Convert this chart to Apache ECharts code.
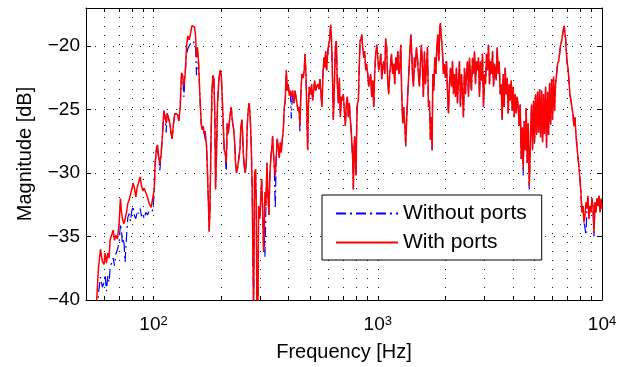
<!DOCTYPE html>
<html>
<head>
<meta charset="utf-8">
<script src="https://cdn.jsdelivr.net/npm/echarts@6/dist/echarts.min.js"></script>
<style>
  html, body { margin: 0; padding: 0; background: #fff; }
  #chart { width: 629px; height: 367px; }
</style>
</head>
<body>
<div id="chart"></div>
<script>
// frequency bins (Hz), shared by both measurements
const freqHz = [
  55.0, 55.8, 56.8, 58.0, 59.2, 60.2, 60.8, 61.7, 62.5, 63.4,
  64.0, 65.2, 66.1, 67.0, 67.9, 69.1, 70.3, 71.2, 72.0, 72.7,
  73.7, 74.7, 75.8, 76.8, 77.9, 78.9, 80.0, 81.1, 82.3, 83.4,
  84.6, 85.7, 87.2, 88.4, 89.6, 90.8, 92.4, 94.0, 95.6, 97.6,
  99.3, 100.7, 101.7, 103.1, 104.2, 105.6, 106.7, 108.2, 109.7, 111.2,
  112.7, 113.9, 115.1, 116.7, 118.3, 119.9, 121.1, 122.8, 124.5, 126.2,
  128.0, 129.7, 131.5, 133.4, 134.8, 136.6, 138.4, 140.4, 142.3, 144.3,
  146.3, 148.3, 150.3, 152.4, 153.9, 155.5, 157.1, 158.7, 160.9, 163.2,
  164.9, 166.6, 168.3, 170.0, 172.4, 174.1, 175.9, 177.1, 178.4, 180.3,
  182.1, 184.0, 185.9, 187.8, 189.1, 191.0, 193.0, 195.7, 198.4, 200.4,
  202.5, 204.6, 206.7, 208.8, 211.0, 213.2, 215.4, 217.6, 219.9, 222.2,
  224.4, 227.5, 229.8, 232.2, 234.6, 237.1, 239.5, 242.8, 245.3, 247.9,
  249.6, 251.3, 253.9, 256.5, 259.2, 261.8, 264.5, 267.3, 270.0, 272.9,
  275.6, 277.5, 279.5, 282.3, 285.2, 287.2, 289.2, 292.2, 294.2, 297.2,
  299.2, 301.3, 303.4, 306.5, 309.7, 311.8, 314.0, 317.2, 320.5, 323.8,
  327.1, 330.5, 333.9, 337.4, 339.7, 342.1, 345.6, 349.1, 352.7, 356.4,
  360.1, 363.8, 367.6, 371.4, 375.2, 379.1, 383.0, 386.9, 390.9, 395.0,
  399.0, 403.2, 407.4, 411.6, 417.3, 423.0, 427.4, 431.8, 436.2, 440.7,
  445.3, 449.8, 454.5, 459.2, 465.6, 470.4, 473.6, 478.5, 483.4, 486.8,
  490.1, 495.2, 502.0, 507.2, 512.5, 517.7, 523.1, 528.5, 534.0, 541.3,
  546.9, 552.5, 558.2, 564.0, 569.8, 575.7, 581.6, 585.6, 591.7, 597.7,
  603.9, 610.2, 616.6, 620.9, 625.2, 629.5, 633.8, 640.4, 647.0, 653.6,
  660.4, 667.3, 674.1, 681.1, 688.2, 695.2, 702.5, 709.6, 717.0, 724.4,
  731.8, 739.4, 747.1, 754.7, 762.6, 767.9, 773.1, 778.4, 783.8, 789.2,
  794.6, 800.0, 805.5, 811.1, 819.4, 827.9, 833.7, 842.2, 848.0, 856.8,
  865.6, 874.6, 883.6, 892.7, 902.0, 911.3, 920.6, 930.2, 939.9, 949.5,
  959.4, 969.4, 979.3, 989.4, 1000, 1010, 1020, 1031, 1042, 1052,
  1063, 1074, 1085, 1096, 1108, 1119, 1131, 1151, 1166, 1178,
  1190, 1203, 1215, 1228, 1241, 1254, 1266, 1279, 1293, 1306,
  1320, 1333, 1347, 1361, 1375, 1389, 1404, 1413, 1428, 1443,
  1457, 1472, 1488, 1503, 1518, 1534, 1550, 1566, 1582, 1598,
  1615, 1632, 1649, 1666, 1683, 1700, 1718, 1736, 1748, 1760,
  1778, 1796, 1815, 1834, 1852, 1872, 1891, 1904, 1923, 1943,
  1963, 1984, 2004, 2025, 2046, 2067, 2088, 2110, 2132, 2154,
  2176, 2199, 2222, 2244, 2267, 2291, 2314, 2338, 2362, 2387,
  2411, 2436, 2461, 2487, 2513, 2539, 2565, 2592, 2618, 2645,
  2673, 2700, 2729, 2756, 2785, 2813, 2842, 2872, 2901, 2931,
  2962, 2992, 3023, 3055, 3086, 3118, 3150, 3183, 3216, 3250,
  3283, 3317, 3374, 3409, 3444, 3479, 3516, 3551, 3588, 3626,
  3663, 3701, 3739, 3777, 3817, 3856, 3896, 3936, 3977, 4018,
  4059, 4102, 4143, 4186, 4229, 4273, 4318, 4362, 4407, 4453,
  4498, 4545, 4592, 4639, 4688, 4736, 4769, 4801, 4851, 4901,
  4952, 5004, 5054, 5107, 5160, 5213, 5267, 5321, 5376, 5433,
  5488, 5545, 5603, 5660, 5719, 5778, 5837, 5898, 5959, 6020,
  6082, 6145, 6209, 6273, 6339, 6404, 6470, 6538, 6604, 6673,
  6741, 6788, 6835, 6882, 6929, 6977, 7049, 7121, 7194, 7269,
  7343, 7419, 7496, 7572, 7651, 7731, 7809, 7891, 7973, 8055,
  8139, 8224, 8308, 8395, 8482, 8568, 8658, 8746, 8836, 8929,
  9020, 9113, 9209, 9302, 9399, 9497, 9594, 9694, 9795, 9895,
  10000
];

// magnitude with ports (dB)
const withPortsDb = [
  -41.5, -40.0, -37.5, -36.0, -37.0, -37.2, -36.3, -37.1, -36.3, -36.7,
  -35.3, -35.2, -34.5, -35.3, -34.9, -35.2, -33.9, -32.0, -33.1, -33.6,
  -34.0, -33.6, -33.1, -32.4, -32.1, -32.0, -31.3, -30.8, -31.2, -31.9,
  -31.1, -30.8, -30.3, -31.0, -31.4, -31.2, -31.2, -31.9, -32.4, -32.7,
  -32.6, -31.3, -29.3, -28.0, -27.8, -28.8, -29.3, -28.5, -26.9, -25.1,
  -25.6, -26.1, -25.3, -25.7, -26.1, -26.9, -27.3, -26.1, -25.3, -25.2,
  -25.4, -25.9, -24.8, -22.1, -22.3, -23.2, -22.2, -20.0, -19.2, -19.5,
  -19.0, -18.4, -18.3, -18.5, -19.1, -20.9, -20.1, -21.2, -23.8, -26.1,
  -26.6, -26.3, -26.9, -26.7, -27.9, -30.0, -32.6, -34.6, -33.1, -27.9,
  -23.8, -22.3, -22.6, -25.6, -31.3, -28.4, -24.5, -22.6, -21.9, -22.2,
  -24.0, -26.1, -28.2, -28.4, -29.2, -26.1, -26.9, -26.9, -25.3, -24.8,
  -25.8, -26.5, -27.4, -29.2, -30.0, -29.6, -29.7, -28.2, -26.3, -25.8,
  -26.9, -28.4, -29.5, -30.0, -29.2, -26.3, -25.0, -24.5, -25.6, -27.9,
  -31.5, -36.5, -41.0, -30.0, -29.7, -32.6, -41.0, -40.8, -32.6, -33.6,
  -33.1, -31.8, -30.5, -32.6, -36.2, -34.6, -31.5, -32.6, -29.2, -31.8,
  -33.3, -30.0, -28.7, -27.9, -27.1, -28.2, -29.5, -30.2, -28.7, -27.3,
  -27.9, -28.8, -27.6, -28.4, -27.4, -26.6, -24.8, -24.3, -21.9, -23.5,
  -23.0, -23.9, -23.5, -24.0, -23.5, -24.5, -23.5, -23.4, -24.5, -25.1,
  -24.8, -26.3, -23.5, -22.2, -22.5, -21.8, -20.6, -22.2, -25.6, -28.2,
  -24.8, -23.2, -23.8, -23.0, -24.3, -23.5, -22.7, -23.5, -23.2, -23.0,
  -23.4, -22.6, -23.8, -24.8, -22.2, -20.9, -21.7, -20.4, -21.9, -20.6,
  -19.9, -19.5, -18.3, -19.1, -20.9, -23.0, -25.8, -23.2, -20.1, -19.6,
  -23.0, -24.5, -22.5, -25.6, -24.0, -24.3, -23.8, -25.1, -26.3, -24.5,
  -24.0, -25.6, -24.5, -25.8, -26.9, -27.9, -28.9, -31.3, -27.9, -27.1,
  -29.2, -30.2, -26.3, -24.5, -24.3, -21.4, -19.6, -19.4, -19.1, -20.1,
  -20.9, -20.4, -21.9, -21.4, -22.2, -23.2, -22.7, -22.2, -24.0, -22.7,
  -24.8, -22.1, -20.6, -19.9, -20.9, -21.9, -21.4, -20.6, -22.6, -21.7,
  -21.2, -22.2, -19.4, -20.1, -22.7, -23.8, -22.2, -20.6, -22.2, -21.4,
  -23.0, -20.9, -21.9, -20.4, -22.2, -21.7, -19.9, -23.8, -26.1, -24.8,
  -26.3, -27.8, -25.6, -23.8, -22.2, -20.6, -19.1, -19.9, -22.2, -23.2,
  -20.9, -21.7, -20.1, -20.9, -22.2, -23.2, -21.2, -19.9, -21.7, -24.0,
  -20.4, -23.0, -21.7, -20.1, -24.8, -24.3, -27.4, -25.6, -28.2, -22.2,
  -23.5, -20.9, -22.2, -20.1, -19.1, -21.2, -18.6, -18.2, -19.4, -20.4,
  -22.2, -21.4, -22.5, -21.2, -23.5, -25.3, -23.0, -21.7, -23.2, -21.2,
  -23.8, -22.2, -24.0, -21.7, -24.5, -22.7, -21.2, -24.8, -22.2, -23.5,
  -25.6, -21.7, -23.8, -22.2, -21.2, -24.0, -20.9, -22.7, -23.5, -20.9,
  -22.2, -20.4, -23.0, -21.2, -21.9, -20.9, -24.0, -21.2, -22.7, -20.6,
  -24.8, -22.2, -23.0, -20.6, -21.9, -19.9, -23.0, -21.2, -22.2, -20.4,
  -23.2, -21.4, -22.7, -20.1, -22.2, -21.2, -23.8, -23.0, -25.8, -22.2,
  -24.8, -21.7, -23.8, -22.5, -25.3, -23.0, -24.3, -22.7, -25.1, -23.2,
  -25.6, -23.8, -25.3, -24.0, -24.8, -26.3, -24.6, -28.9, -26.4, -29.7,
  -25.9, -28.2, -24.9, -29.2, -26.1, -31.0, -29.5, -26.9, -24.6, -28.2,
  -24.3, -27.6, -23.8, -27.0, -23.6, -26.8, -23.4, -27.2, -23.5, -27.6,
  -23.8, -26.9, -23.2, -28.0, -23.6, -27.0, -22.9, -26.2, -22.6, -25.8,
  -22.4, -25.1, -23.0, -22.2, -21.4, -21.2, -20.6, -19.9, -19.6, -19.1,
  -18.6, -18.4, -19.0, -19.4, -20.4, -21.2, -21.7, -22.7, -23.8, -24.3,
  -24.8, -25.3, -26.3, -25.6, -26.9, -27.9, -28.7, -29.5, -30.5, -31.5,
  -33.1, -32.6, -33.9, -33.3, -32.3, -32.8, -31.8, -33.6, -32.6, -33.1,
  -32.0, -32.6, -34.7, -32.3, -33.1, -32.0, -32.6, -31.8, -33.1, -32.0,
  -32.8
];

// magnitude without ports (dB)
const withoutPortsDb = [
  -42.5, -41.0, -39.5, -38.2, -39.0, -38.6, -38.0, -39.3, -38.1, -38.6,
  -37.6, -37.0, -36.7, -37.3, -36.4, -36.0, -35.5, -34.0, -34.6, -35.6,
  -35.2, -37.0, -35.0, -33.5, -33.2, -33.8, -33.0, -32.6, -33.4, -33.6,
  -33.0, -33.2, -32.8, -33.4, -33.2, -33.6, -33.1, -33.3, -33.0, -33.1,
  -32.9, -31.6, -29.3, -28.0, -28.3, -28.8, -29.8, -28.5, -26.9, -25.1,
  -25.6, -26.8, -25.3, -25.7, -26.1, -26.9, -27.3, -26.1, -25.3, -25.2,
  -25.4, -25.9, -24.8, -22.1, -22.3, -24.0, -22.2, -20.6, -20.2, -20.0,
  -19.8, -19.7, -19.6, -19.7, -20.0, -22.3, -21.5, -21.2, -23.8, -26.1,
  -26.6, -26.3, -26.9, -27.3, -27.9, -30.0, -32.6, -34.6, -33.1, -27.9,
  -23.8, -22.3, -22.6, -25.6, -31.3, -28.4, -24.5, -22.6, -21.9, -22.2,
  -24.0, -26.1, -28.2, -28.4, -30.1, -26.1, -26.9, -26.9, -25.3, -24.8,
  -25.8, -26.5, -27.4, -29.2, -30.0, -29.6, -29.7, -28.2, -26.3, -25.8,
  -26.9, -28.4, -29.5, -30.0, -29.2, -26.3, -25.0, -24.5, -25.6, -27.9,
  -31.5, -36.5, -41.0, -30.0, -29.7, -32.6, -41.0, -40.8, -32.6, -33.6,
  -33.1, -31.8, -30.5, -32.6, -36.2, -34.6, -36.6, -32.6, -29.2, -31.8,
  -33.3, -30.0, -28.7, -27.9, -27.1, -28.2, -29.5, -32.8, -28.7, -27.3,
  -27.9, -28.8, -27.6, -28.4, -27.4, -26.6, -24.8, -24.3, -21.9, -23.5,
  -23.0, -23.9, -23.5, -25.7, -23.5, -24.5, -23.5, -23.4, -24.5, -25.1,
  -24.8, -26.7, -23.5, -22.2, -22.5, -21.8, -20.6, -22.2, -25.6, -28.3,
  -24.8, -23.2, -23.8, -23.0, -24.3, -23.5, -22.7, -23.5, -23.2, -23.0,
  -23.4, -22.6, -23.8, -24.8, -22.2, -20.9, -21.7, -20.4, -21.9, -20.6,
  -19.9, -19.5, -18.3, -19.1, -20.9, -23.0, -25.8, -23.2, -20.1, -19.6,
  -23.0, -24.5, -22.5, -25.6, -24.0, -24.3, -23.8, -25.1, -26.3, -24.5,
  -24.0, -25.6, -24.5, -25.8, -26.9, -27.9, -28.9, -31.3, -27.9, -27.1,
  -29.2, -30.2, -26.3, -24.5, -24.3, -21.4, -19.6, -19.4, -19.1, -20.1,
  -20.9, -20.4, -21.9, -21.4, -22.2, -23.2, -22.7, -22.2, -24.0, -22.7,
  -24.9, -22.1, -20.6, -19.9, -20.9, -21.9, -21.4, -20.6, -22.6, -21.7,
  -21.2, -22.2, -19.4, -20.1, -22.7, -23.8, -22.2, -20.6, -22.2, -21.4,
  -23.0, -20.9, -21.9, -20.4, -22.2, -21.7, -19.9, -23.8, -26.1, -24.8,
  -26.3, -27.9, -25.6, -23.8, -22.2, -20.6, -19.1, -19.9, -22.2, -23.2,
  -20.9, -21.7, -20.1, -20.9, -22.2, -23.2, -21.2, -19.9, -21.7, -24.0,
  -20.4, -23.0, -21.7, -20.1, -24.8, -24.3, -27.4, -25.6, -28.2, -22.2,
  -23.5, -20.9, -22.2, -20.1, -19.1, -21.2, -18.6, -18.2, -19.4, -20.4,
  -22.2, -21.4, -22.5, -21.2, -23.5, -25.3, -23.0, -21.7, -23.2, -21.2,
  -23.8, -22.2, -24.0, -21.7, -24.5, -22.7, -21.2, -24.8, -22.2, -23.5,
  -25.6, -21.7, -23.8, -22.2, -21.2, -24.0, -20.9, -22.7, -23.5, -20.9,
  -22.2, -20.4, -23.0, -21.2, -21.9, -20.9, -24.0, -21.2, -22.7, -20.6,
  -24.8, -22.2, -23.0, -20.6, -21.9, -19.9, -23.0, -21.2, -22.2, -20.4,
  -23.2, -21.4, -22.7, -20.1, -22.2, -21.2, -23.8, -23.0, -25.8, -22.2,
  -24.8, -21.7, -23.8, -22.5, -25.3, -23.0, -24.3, -22.7, -25.1, -23.2,
  -25.6, -23.8, -25.3, -24.0, -24.8, -26.3, -24.6, -28.9, -26.4, -30.2,
  -25.9, -28.2, -24.9, -29.2, -26.1, -31.3, -31.2, -26.9, -24.6, -28.2,
  -24.3, -27.6, -23.8, -27.0, -23.6, -26.8, -23.4, -27.2, -23.5, -27.6,
  -23.8, -26.9, -23.2, -28.0, -23.6, -27.0, -22.9, -26.2, -22.6, -25.8,
  -22.4, -25.1, -23.0, -22.2, -21.4, -21.2, -20.6, -19.9, -19.6, -19.1,
  -18.6, -18.4, -19.0, -19.4, -20.4, -21.2, -21.7, -22.7, -23.8, -24.3,
  -24.8, -25.3, -26.3, -25.6, -26.9, -27.9, -28.7, -29.5, -30.5, -31.5,
  -33.1, -32.6, -33.9, -34.3, -34.9, -32.8, -31.8, -33.6, -32.6, -33.1,
  -32.0, -32.6, -35.0, -32.3, -33.1, -32.0, -32.6, -31.8, -33.1, -32.0,
  -32.8
];

// grid/tick positions on the frequency axis (Hz) and labelled decades
const freqGridHz = [60, 70, 80, 90, 100, 200, 300, 400, 500, 600, 700, 800, 900,
  1000, 2000, 3000, 4000, 5000, 6000, 7000, 8000, 9000, 10000];
const freqLabelExp = [2, 3, 4];
const magTicks = [-40, -35, -30, -25, -20];

const FONT = '"Liberation Sans", Arial, Helvetica, sans-serif';

const gridExp = freqGridHz.map(f => Math.log10(f));
const toPoints = db => freqHz.map((f, i) => [Math.log10(f), db[i]]);

const chart = echarts.init(document.getElementById('chart'));

const xBase = {
  type: 'value',
  min: Math.log10(50),
  max: 4,
  axisLine: { show: true, onZero: false, lineStyle: { color: '#000', width: 1 } },
  axisTick: { show: true, inside: true, length: 4, customValues: gridExp, lineStyle: { color: '#000' } },
};
const yBase = {
  type: 'value',
  min: -40,
  max: -17,
  interval: 5,
  axisLine: { show: true, onZero: false, lineStyle: { color: '#000', width: 1 } },
  axisTick: { show: true, inside: true, length: 5, customValues: magTicks, lineStyle: { color: '#000' } },
};

chart.setOption({
  animation: false,
  backgroundColor: '#fff',
  textStyle: { fontFamily: FONT },
  grid: { left: 86, right: 27, top: 8, bottom: 64 },
  xAxis: [
    {
      ...xBase,
      position: 'bottom',
      name: 'Frequency [Hz]',
      nameLocation: 'middle',
      nameGap: 42,
      nameTextStyle: { fontSize: 20, color: '#000', fontFamily: FONT },
      axisLabel: {
        customValues: freqLabelExp,
        margin: 15,
        color: '#000',
        formatter: v => '{b|10}{s|' + Math.round(v) + '}',
        rich: {
          b: { fontSize: 19, fontFamily: FONT, color: '#000', verticalAlign: 'bottom' },
          s: { fontSize: 13, fontFamily: FONT, color: '#000', verticalAlign: 'bottom', padding: [0, 0, 6, 0] },
        },
      },
      splitLine: { show: true, lineStyle: { color: '#222', width: 1, type: [1, 8] } },
    },
    {
      ...xBase,
      position: 'top',
      axisLabel: { show: false },
      splitLine: { show: false },
    },
  ],
  yAxis: [
    {
      ...yBase,
      position: 'left',
      name: 'Magnitude [dB]',
      nameLocation: 'middle',
      nameGap: 51,
      nameTextStyle: { fontSize: 20, color: '#000', fontFamily: FONT },
      axisLabel: {
        customValues: magTicks,
        margin: 6,
        fontSize: 19,
        color: '#000',
        fontFamily: FONT,
        formatter: v => String(v).replace('-', '\u2212'),
      },
      splitLine: { show: true, lineStyle: { color: '#222', width: 1, type: [1, 8] } },
    },
    {
      ...yBase,
      position: 'right',
      axisLabel: { show: false },
      splitLine: { show: false },
    },
  ],
  legend: {
    data: ['Without ports', 'With ports'],
    orient: 'vertical',
    left: 322,
    top: 195,
    itemWidth: 62,
    itemHeight: 12,
    itemGap: 8,
    padding: [8, 15, 7, 13],
    borderColor: '#000',
    borderWidth: 1,
    backgroundColor: '#fff',
    itemStyle: { color: 'rgba(0,0,0,0)', borderWidth: 0 },
    textStyle: { fontSize: 21, color: '#000', fontFamily: FONT },
  },
  series: [
    {
      name: 'Without ports',
      type: 'line',
      xAxisIndex: 0,
      yAxisIndex: 0,
      symbol: 'none',
      showSymbol: false,
      data: toPoints(withoutPortsDb),
      lineStyle: { color: '#0000ff', width: 1.2, type: [10, 4, 2, 4] },
      itemStyle: { color: '#0000ff' },
      z: 2,
    },
    {
      name: 'With ports',
      type: 'line',
      xAxisIndex: 0,
      yAxisIndex: 0,
      symbol: 'none',
      showSymbol: false,
      data: toPoints(withPortsDb),
      lineStyle: { color: '#ff0000', width: 1.5 },
      itemStyle: { color: '#ff0000' },
      z: 3,
    },
  ],
});
</script>
</body>
</html>
